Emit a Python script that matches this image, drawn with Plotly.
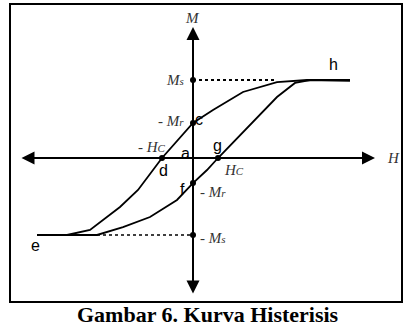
import plotly.graph_objects as go

# Hysteresis loop (H in units of Hc-ish, M in units of Ms)
desc_H = [6.28, 4.56, 3.36, 2.0, 0.8, 0.0, -1.24, -2.2, -2.92, -4.12, -5.04, -6.24]
desc_M = [0.99, 1.0, 0.974, 0.846, 0.615, 0.449, 0.0, -0.41, -0.628, -0.923, -0.987, -0.987]
asc_H = [-6.24, -3.84, -2.8, -1.72, -0.64, 0.0, 0.56, 1.0, 3.36, 4.08, 4.68, 6.28]
asc_M = [-0.987, -0.987, -0.885, -0.756, -0.538, -0.321, -0.154, 0.0, 0.782, 0.962, 1.0, 1.0]

# key points: Ms, Mr, -Hc, Hc, f (-Mr), -Ms
pt_H = [0.0, 0.0, -1.24, 1.0, 0.0, 0.0]
pt_M = [1.0, 0.449, 0.0, 0.0, -0.321, -0.987]

ms_line_H = [0.0, 3.36]
ms_line_M = [1.0, 1.0]
nms_line_H = [-3.84, 0.0]
nms_line_M = [-0.987, -0.987]

X_RANGE = [-7.72, 8.44]
Y_RANGE = [-2.1795, 2.0256]

fig = go.Figure()
fig.add_trace(go.Scatter(x=desc_H, y=desc_M, mode="lines",
                         line=dict(color="black", width=1.8), hoverinfo="skip"))
fig.add_trace(go.Scatter(x=asc_H, y=asc_M, mode="lines",
                         line=dict(color="black", width=1.8), hoverinfo="skip"))
fig.add_trace(go.Scatter(x=ms_line_H, y=ms_line_M, mode="lines",
                         line=dict(color="black", width=2, dash="dot"), hoverinfo="skip"))
fig.add_trace(go.Scatter(x=nms_line_H, y=nms_line_M, mode="lines",
                         line=dict(color="black", width=1.5, dash="dot"), hoverinfo="skip"))
fig.add_trace(go.Scatter(x=pt_H, y=pt_M, mode="markers",
                         marker=dict(color="black", size=6), hoverinfo="skip"))

# frame
fig.add_shape(type="rect", xref="x", yref="y", x0=-7.32, x1=8.36, y0=-1.846, y1=1.974,
              line=dict(color="black", width=2), layer="below")

anns = []
# axes with arrows
anns.append(dict(x=7.28, y=0, ax=-6.92, ay=0, xref="x", yref="y", axref="x", ayref="y",
                 showarrow=True, arrowhead=2, startarrowhead=2, arrowside="end+start",
                 arrowsize=1.3, startarrowsize=1.3, arrowwidth=2, arrowcolor="black", text=""))
anns.append(dict(x=0, y=1.679, ax=0, ay=-1.756, xref="x", yref="y", axref="x", ayref="y",
                 showarrow=True, arrowhead=2, startarrowhead=2, arrowside="end+start",
                 arrowsize=1.3, startarrowsize=1.3, arrowwidth=2, arrowcolor="black", text=""))

serif = dict(family="Liberation Serif", size=15, color="#333")
def lab(text, x, y, xanchor="center", font=serif):
    anns.append(dict(x=x, y=y, xref="x", yref="y", text=text, showarrow=False,
                     xanchor=xanchor, yanchor="middle", font=font))

SM = "<span style='font-size:11px'>%s</span>"
lab("<i>M</i>", -0.04, 1.80)
lab("<i>H</i>", 8.0, 0.0)
lab("<i>M" + SM % "s" + "</i>", -0.3, 1.0, "right")
lab("- <i>M" + SM % "r" + "</i>", -0.3, 0.47, "right")
lab("- <i>H" + SM % "C" + "</i>", -1.64, 0.14)
lab("<i>H" + SM % "C" + "</i>", 1.64, -0.16)
lab("- <i>M" + SM % "r" + "</i>", 0.2, -0.44, "left")
lab("- <i>M" + SM % "s" + "</i>", 0.2, -1.03, "left")

sans = dict(family="Liberation Sans", size=16, color="black")
lab("a", -0.32, 0.06, font=sans)
lab("c", 0.24, 0.49, font=sans)
lab("d", -1.2, -0.16, font=sans)
lab("f", -0.44, -0.4, font=sans)
lab("g", 0.96, 0.16, font=sans)
lab("h", 5.6, 1.2, font=sans)
lab("e", -6.32, -1.12, font=sans)

anns.append(dict(x=0.515, y=0.0, xref="paper", yref="paper",
                 text="<b>Gambar 6. Kurva Histerisis</b>", showarrow=False,
                 xanchor="center", yanchor="bottom", borderpad=0,
                 font=dict(family="Liberation Serif", size=22, color="black")))

fig.update_layout(
    width=404, height=328, autosize=False,
    margin=dict(l=0, r=0, t=0, b=0),
    paper_bgcolor="white", plot_bgcolor="white",
    showlegend=False,
    annotations=anns,
    xaxis=dict(range=X_RANGE, visible=False, fixedrange=True),
    yaxis=dict(range=Y_RANGE, visible=False, fixedrange=True),
)
fig.write_html("out.html")
